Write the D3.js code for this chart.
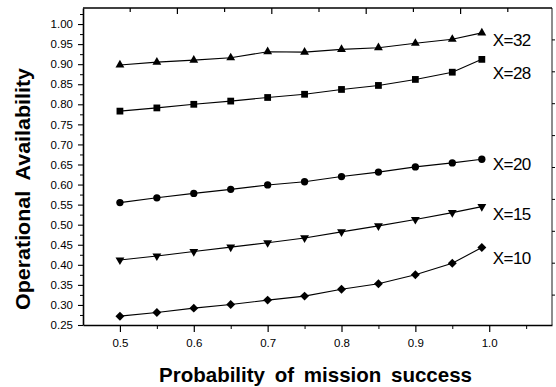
<!DOCTYPE html>
<html>
<head>
<meta charset="utf-8">
<script src="https://cdn.jsdelivr.net/npm/d3@7"></script>
<style>
  html, body { margin: 0; padding: 0; background: #fff; }
  svg { display: block; font-family: "Liberation Sans", Arial, Helvetica, sans-serif; }
</style>
</head>
<body>
<svg id="chart" width="556" height="387"></svg>
<script>
// ---- data ----
const probs = [0.5, 0.55, 0.6, 0.65, 0.7, 0.75, 0.8, 0.85, 0.9, 0.95, 0.99];
const seriesNames = ["X=32", "X=28", "X=20", "X=15", "X=10"];
const availX32 = [0.898, 0.905, 0.910, 0.916, 0.931, 0.930, 0.937, 0.941, 0.952, 0.962, 0.978];
const availX28 = [0.783, 0.791, 0.800, 0.808, 0.817, 0.825, 0.837, 0.847, 0.862, 0.880, 0.912];
const availX20 = [0.555, 0.567, 0.578, 0.588, 0.599, 0.607, 0.620, 0.631, 0.644, 0.654, 0.663];
const availX15 = [0.412, 0.422, 0.433, 0.444, 0.455, 0.467, 0.482, 0.497, 0.513, 0.530, 0.545];
const availX10 = [0.272, 0.281, 0.292, 0.301, 0.312, 0.322, 0.339, 0.353, 0.375, 0.404, 0.443];
const xMajorTicks = [0.5, 0.6, 0.7, 0.8, 0.9, 1.0];
const xMinorTicks = [0.55, 0.65, 0.75, 0.85, 0.95, 1.05];
const yMajorTicks = [0.25, 0.30, 0.35, 0.40, 0.45, 0.50, 0.55, 0.60, 0.65, 0.70, 0.75, 0.80, 0.85, 0.90, 0.95, 1.00];
const yMinorTicks = [0.275, 0.325, 0.375, 0.425, 0.475, 0.525, 0.575, 0.625, 0.675, 0.725, 0.775, 0.825, 0.875, 0.925, 0.975, 1.025];
const xTitle = "Probability of mission success";
const yTitle = "Operational Availability";

// ---- layout / style ----
const svg = d3.select("#chart");
const L = 83, R = 552, T = 8, B = 325;
const x = d3.scaleLinear().domain([0.45, 1.085]).range([L, R]);
const y = d3.scaleLinear().domain([0.25, 1.04]).range([B, T]);

const seriesValues = [availX32, availX28, availX20, availX15, availX10];
const markerTypes = ["tri", "square", "circle", "triDown", "diamond"];
const labelDy = [13, 20, 11, 13, 16];

// frame
svg.append("line").attr("x1", L).attr("x2", R).attr("y1", T).attr("y2", T).attr("stroke", "#000").attr("stroke-width", 1.3);
svg.append("line").attr("x1", R).attr("x2", R).attr("y1", T).attr("y2", B).attr("stroke", "#000").attr("stroke-width", 0.9);

// bottom axis
const xAxisMajor = d3.axisBottom(x).tickValues(xMajorTicks).tickSize(7).tickSizeOuter(0).tickFormat(d3.format(".1f"));
const gx = svg.append("g").attr("transform", `translate(0,${B})`).call(xAxisMajor);
gx.select(".domain").attr("stroke-width", 1.6);
gx.selectAll(".tick line").attr("stroke-width", 1.2);
gx.selectAll(".tick text").attr("font-size", 11.5).attr("fill", "#000").attr("dy", "0.75em").attr("y", 13)
  .attr("font-family", "'Liberation Sans', Arial, sans-serif");
const xAxisMinor = d3.axisBottom(x).tickValues(xMinorTicks).tickSize(4).tickFormat("");
const gxm = svg.append("g").attr("transform", `translate(0,${B})`).call(xAxisMinor);
gxm.select(".domain").remove();
gxm.selectAll(".tick line").attr("stroke-width", 1);

// left axis
const yAxisMajor = d3.axisLeft(y).tickValues(yMajorTicks).tickSize(5).tickSizeOuter(0).tickFormat(d3.format(".2f"));
const gy = svg.append("g").attr("transform", `translate(${L},0)`).call(yAxisMajor);
gy.select(".domain").attr("stroke-width", 1.6);
gy.selectAll(".tick line").attr("stroke-width", 1.1);
gy.selectAll(".tick text").attr("font-size", 11.5).attr("fill", "#000").attr("x", -10)
  .attr("font-family", "'Liberation Sans', Arial, sans-serif");
const yAxisMinor = d3.axisLeft(y).tickValues(yMinorTicks).tickSize(3).tickFormat("");
const gym = svg.append("g").attr("transform", `translate(${L},0)`).call(yAxisMinor);
gym.select(".domain").remove();
gym.selectAll(".tick line").attr("stroke-width", 1);

// top decorative ticks (inward) and right ticks (outward)
const topScale = d3.scaleLinear().domain([0, 10]).range([L, 555]);
const topTicks = d3.range(1, 10);
svg.append("g").selectAll("line").data(topTicks).join("line")
  .attr("x1", d => topScale(d)).attr("x2", d => topScale(d))
  .attr("y1", T).attr("y2", (d, i) => T + (i % 2 === 0 ? 4 : 6))
  .attr("stroke", "#000").attr("stroke-width", 1.2);
const rightScale = d3.scaleLinear().domain([0, 10]).range([T, B + 2]);
svg.append("g").selectAll("line").data(topTicks).join("line")
  .attr("x1", R).attr("x2", R + 3)
  .attr("y1", d => rightScale(d)).attr("y2", d => rightScale(d))
  .attr("stroke", "#000").attr("stroke-width", 1);

// series lines and markers
const line = d3.line().x(d => x(d[0])).y(d => y(d[1]));
function symbolPath(type) {
  switch (type) {
    case "tri": return { p: d3.symbol(d3.symbolTriangle, 34)(), r: 0 };
    case "triDown": return { p: d3.symbol(d3.symbolTriangle, 34)(), r: 180 };
    case "square": return { p: d3.symbol(d3.symbolSquare, 46)(), r: 0 };
    case "circle": return { p: d3.symbol(d3.symbolCircle, 42)(), r: 0 };
    case "diamond": return { p: d3.symbol(d3.symbolSquare, 40)(), r: 45 };
  }
}
seriesValues.forEach((vals, si) => {
  const pts = probs.map((p, i) => [p, vals[i]]);
  svg.append("path").datum(pts).attr("d", line)
    .attr("fill", "none").attr("stroke", "#000").attr("stroke-width", 1.1);
  const sym = symbolPath(markerTypes[si]);
  svg.append("g").selectAll("path").data(pts).join("path")
    .attr("d", sym.p)
    .attr("transform", d => `translate(${x(d[0])},${y(d[1])}) rotate(${sym.r})`)
    .attr("fill", "#000");
  const last = pts[pts.length - 1];
  svg.append("text")
    .attr("x", x(last[0]) + 11)
    .attr("y", y(last[1]) + labelDy[si])
    .attr("font-size", 17).attr("letter-spacing", -0.6)
    .attr("fill", "#000")
    .text(seriesNames[si]);
});

// axis titles
svg.append("text")
  .attr("x", (L + R) / 2 - 2).attr("y", 382)
  .attr("text-anchor", "middle")
  .attr("font-size", 20.5).attr("font-weight", "bold")
  .attr("word-spacing", 4)
  .attr("textLength", 313).attr("lengthAdjust", "spacingAndGlyphs")
  .text(xTitle);
svg.append("text")
  .attr("transform", `translate(30,${189}) rotate(-90)`)
  .attr("text-anchor", "middle")
  .attr("font-size", 21).attr("font-weight", "bold")
  .attr("word-spacing", 5)
  .attr("textLength", 242).attr("lengthAdjust", "spacingAndGlyphs")
  .text(yTitle);
</script>
</body>
</html>
